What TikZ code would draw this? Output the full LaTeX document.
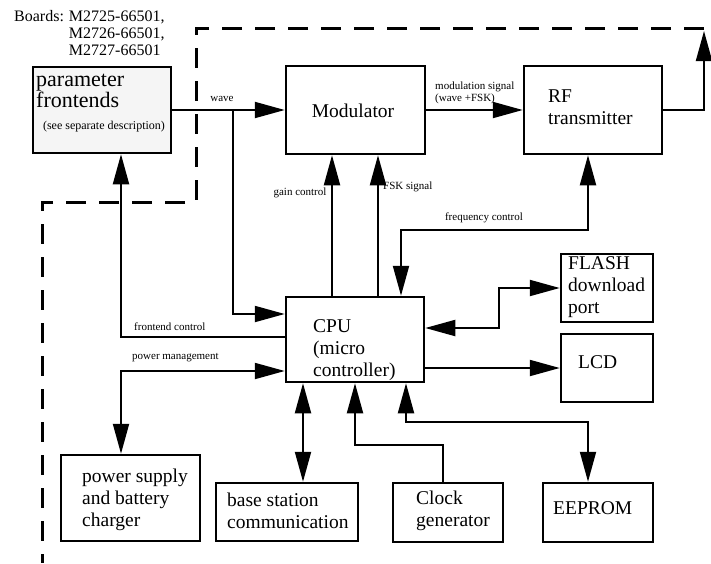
\documentclass[tikz,border=0pt]{standalone}
\usepackage{fontspec}
\setmainfont{Liberation Serif}
\usetikzlibrary{arrows.meta}
\begin{document}
\begin{tikzpicture}[x=1pt,y=-1pt]
        \tikzstyle{box}=[draw=black,line width=2.5pt,inner sep=0pt]
        \tikzstyle{txt}=[inner sep=0pt,anchor=west,align=left,font=\fontsize{19.5}{21.8}\selectfont]
        \tikzstyle{lbl}=[inner sep=0pt,font=\fontsize{11}{12}\selectfont]
        \tikzstyle{conn}=[draw,line width=2pt,-{Triangle[length=30pt,width=16pt]}]
        \tikzstyle{dconn}=[draw,line width=2pt,{Triangle[length=30pt,width=16pt]}-{Triangle[length=30pt,width=16pt]}]
        \tikzstyle{border}=[draw,line width=3pt,dash pattern=on 20pt off 13pt]
        \useasboundingbox (0,0) rectangle (711,563);
        % board boundary
        \draw[border] (704,28) -- (196,28) -- (196,202) -- (42,202) -- (42,563);
        \node[inner sep=0pt,anchor=north west,font=\fontsize{16}{17}\selectfont] (boards) at (14,9)
          {\begin{tabular}{@{}l@{\hspace{5pt}}l@{}}Boards: & M2725-66501,\\ & M2726-66501,\\ & M2727-66501\end{tabular}};
        % blocks
        \node[box,fill=black!4,minimum width=138pt,minimum height=86pt] (fe) at (102,110) {};
        \node[box,minimum width=139pt,minimum height=88pt] (mod) at (355.5,110) {};
        \node[box,minimum width=138pt,minimum height=88pt] (rf) at (593,110) {};
        \node[box,minimum width=138pt,minimum height=85pt] (cpu) at (355,339.5) {};
        \node[box,minimum width=92pt,minimum height=68pt] (flash) at (607,288) {};
        \node[box,minimum width=92pt,minimum height=68pt] (lcd) at (607,368) {};
        \node[box,minimum width=110pt,minimum height=59pt] (eeprom) at (598,512.5) {};
        \node[box,minimum width=110pt,minimum height=59pt] (clk) at (448,512.5) {};
        \node[box,minimum width=142pt,minimum height=58pt] (bs) at (287,512) {};
        \node[box,minimum width=139pt,minimum height=86pt] (ps) at (130.5,498) {};
        % block texts
        \node[txt,font=\fontsize{22}{20.5}\selectfont] (fe-t) at (36,91) {parameter\\frontends};
        \node[inner sep=0pt,font=\fontsize{12}{13}\selectfont] (fe-s) at (104,127) {(see separate description)};
        \node[inner sep=0pt,font=\fontsize{19.5}{21.8}\selectfont] (mod-t) at (353,111) {Modulator};
        \node[txt] (rf-t) at (548,107) {RF\\transmitter};
        \node[txt] (cpu-t) at (313,350) {CPU\\(micro\\controller)};
        \node[txt] (flash-t) at (568,287) {FLASH\\download\\port};
        \node[txt] (lcd-t) at (578,362) {LCD};
        \node[txt] (eeprom-t) at (553,508) {EEPROM};
        \node[txt] (clk-t) at (416,511) {Clock\\generator};
        \node[txt] (bs-t) at (227,511) {base station\\communication};
        \node[txt] (ps-t) at (82,500) {power supply\\and battery\\charger};
        % bend points
        \coordinate (wj) at (233,110);
        \coordinate (wc) at (233,314);
        \coordinate (out) at (704,31);
        \coordinate (g) at (332,0);
        \coordinate (fsk) at (378,0);
        \coordinate (fq1) at (588,230);
        \coordinate (fq2) at (401,230);
        \coordinate (fl) at (499,328);
        \coordinate (fc) at (121,337);
        \coordinate (pm) at (121,371);
        \coordinate (bb) at (303,0);
        \coordinate (ck1) at (443,445);
        \coordinate (ck2) at (355,445);
        \coordinate (ee1) at (406,422);
        \coordinate (ee2) at (588,422);
        % connections
        \path[conn] (fe.east) -- (mod.west);
        \path[conn] (wj) -- (wc) -- (cpu.west |- wc);
        \path[conn] (mod.east) -- (rf.west);
        \path[conn] (rf.east) -| (out);
        \path[conn] (cpu.north -| g) -- (mod.south -| g);
        \path[conn] (cpu.north -| fsk) -- (mod.south -| fsk);
        \path[dconn] (rf.south -| fq1) -- (fq1) -- (fq2) -- (cpu.north -| fq2);
        \path[dconn] (cpu.east |- fl) -- (fl) |- (flash.west);
        \path[conn] (cpu.east |- lcd.west) -- (lcd.west);
        \path[conn] (cpu.west |- fc) -- (fc) -- (fe.south -| fc);
        \path[dconn] (cpu.west |- pm) -- (pm) -- (ps.north -| pm);
        \path[dconn] (cpu.south -| bb) -- (bs.north -| bb);
        \path[conn] (clk.north -| ck1) -- (ck1) -- (ck2) -- (cpu.south);
        \path[dconn] (cpu.south -| ee1) -- (ee1) -- (ee2) -- (eeprom.north -| ee2);
        % labels
        \node[lbl] (wave-l) at (222,99) {wave};
        \node[lbl,anchor=west,align=left] (mod-l) at (435,93) {modulation signal\\(wave +FSK)};
        \node[lbl] (g-l) at (300,193) {gain control};
        \node[lbl,anchor=west] (fsk-l) at (383,187) {FSK signal};
        \node[lbl] (fq-l) at (484,218) {frequency control};
        \node[lbl,anchor=west] (fc-l) at (134,327) {frontend control};
        \node[lbl,anchor=west] (pm-l) at (132,358) {power management};
\end{tikzpicture}
\end{document}
